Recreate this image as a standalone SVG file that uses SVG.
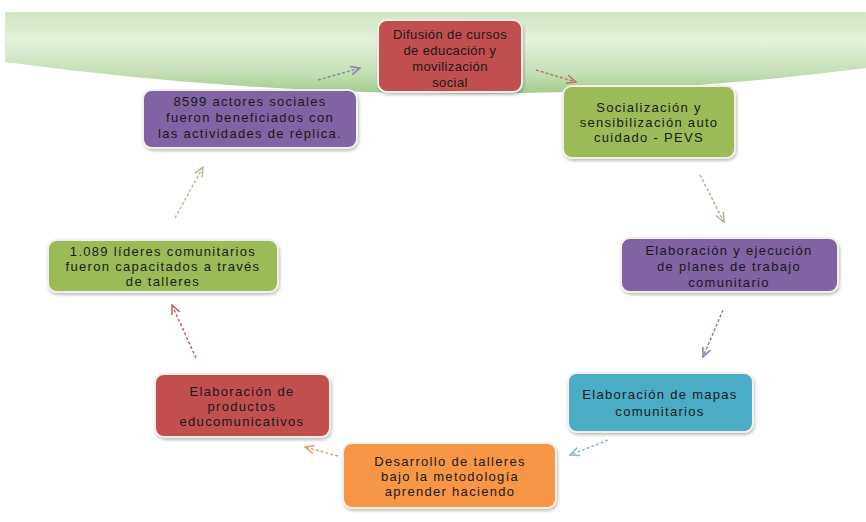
<svg xmlns="http://www.w3.org/2000/svg" width="866" height="522" viewBox="0 0 866 522">
<defs>
<linearGradient id="band" x1="0" y1="0" x2="0" y2="1">
<stop offset="0" stop-color="#d0e6c2"/>
<stop offset="0.35" stop-color="#e4f1dc"/>
<stop offset="0.75" stop-color="#c4dfb4"/>
<stop offset="1" stop-color="#a2cc8c"/>
</linearGradient>
<filter id="sh" x="-10%" y="-10%" width="120%" height="130%">
<feDropShadow dx="1" dy="2" stdDeviation="1.5" flood-color="#000" flood-opacity="0.25"/>
</filter>
<marker id="ah" viewBox="0 0 10 10" refX="9" refY="5" markerWidth="7" markerHeight="7" orient="auto">
<path d="M0,1 L9,5 L0,9" fill="none" stroke="context-stroke" stroke-width="1.5"/>
</marker>
</defs>
<style>
.n{stroke:#f4efe6;stroke-width:2;filter:url(#sh)}
.t{font-family:"Liberation Sans",Arial,sans-serif;font-size:13px;letter-spacing:1.3px;fill:#1a1a1a;text-anchor:middle}
.s{letter-spacing:0.4px}
.c{fill:none;stroke-width:1.5;stroke-dasharray:3 2;marker-end:url(#ah)}
</style>
<rect width="866" height="522" fill="#ffffff"/>
<path d="M5,12 L866,12 L866,68 Q450,122 5,62 Z" fill="url(#band)"/>
<g id="connectors">
<line class="c" x1="536" y1="70" x2="576" y2="82" stroke="#b87a6a"/>
<line class="c" x1="700" y1="175" x2="724" y2="222" stroke="#a8b890"/>
<line class="c" x1="723" y1="310" x2="703" y2="357" stroke="#8a80a8"/>
<line class="c" x1="608" y1="440" x2="570" y2="455" stroke="#90b8c8"/>
<line class="c" x1="338" y1="456" x2="305" y2="447" stroke="#e0a070"/>
<line class="c" x1="196" y1="358" x2="172" y2="305" stroke="#c06868"/>
<line class="c" x1="175" y1="218" x2="203" y2="167" stroke="#b0c098"/>
<line class="c" x1="318" y1="80" x2="360" y2="68" stroke="#9088b0"/>
</g>
<g id="n1">
<rect class="n" x="378" y="20" width="144" height="72" rx="9" fill="#c0504d"/>
<text class="t s" x="450" y="39">Difusión de cursos</text>
<text class="t s" x="450" y="55">de educación y</text>
<text class="t s" x="450" y="71">movilización</text>
<text class="t s" x="450" y="87">social</text>
</g>
<g id="n2">
<rect class="n" x="563" y="86" width="172" height="72" rx="9" fill="#9bbb59"/>
<text class="t" x="649" y="112">Socialización y</text>
<text class="t" x="649" y="127">sensibilización auto</text>
<text class="t" x="649" y="142">cuidado - PEVS</text>
</g>
<g id="n3">
<rect class="n" x="621" y="238" width="217" height="54" rx="9" fill="#8064a2"/>
<text class="t" x="729" y="255">Elaboración y ejecución</text>
<text class="t" x="729" y="271">de planes de trabajo</text>
<text class="t" x="729" y="287">comunitario</text>
</g>
<g id="n4">
<rect class="n" x="568" y="373" width="185" height="59" rx="9" fill="#4bacc6"/>
<text class="t" x="660" y="399">Elaboración de mapas</text>
<text class="t" x="660" y="416">comunitarios</text>
</g>
<g id="n5">
<rect class="n" x="343" y="443" width="213" height="65" rx="9" fill="#f79646"/>
<text class="t" x="450" y="466">Desarrollo de talleres</text>
<text class="t" x="450" y="481">bajo la metodología</text>
<text class="t" x="450" y="496">aprender haciendo</text>
</g>
<g id="n6">
<rect class="n" x="155" y="374" width="175" height="63" rx="9" fill="#c0504d"/>
<text class="t" x="242" y="396">Elaboración de</text>
<text class="t" x="242" y="411">productos</text>
<text class="t" x="242" y="426">educomunicativos</text>
</g>
<g id="n7">
<rect class="n" x="48" y="240" width="230" height="52" rx="9" fill="#9bbb59"/>
<text class="t" x="163" y="256">1.089 líderes comunitarios</text>
<text class="t" x="163" y="271">fueron capacitados a través</text>
<text class="t" x="163" y="286">de talleres</text>
</g>
<g id="n8">
<rect class="n" x="143" y="90" width="214" height="58" rx="9" fill="#8064a2"/>
<text class="t" x="250" y="106">8599 actores sociales</text>
<text class="t" x="250" y="122">fueron beneficiados con</text>
<text class="t" x="250" y="138">las actividades de réplica.</text>
</g>
</svg>
